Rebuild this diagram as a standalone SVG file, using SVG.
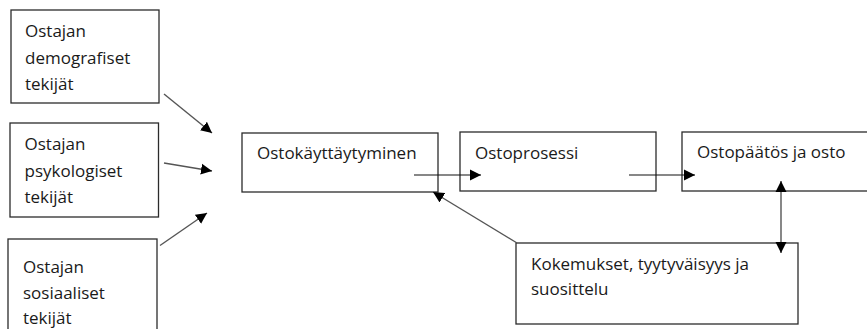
<svg xmlns="http://www.w3.org/2000/svg" width="867" height="329" viewBox="0 0 867 329">
  <style>
    .box { fill: #ffffff; stroke: #2b2b2b; stroke-width: 1.3; }
    .t { font-family: "Open Sans", "Liberation Sans", sans-serif; font-size: 17px; fill: #1a1a1a; }
    .c { stroke: #111; stroke-width: 1.2; fill: none; }
    .cg { stroke: #555; stroke-width: 1.4; fill: none; }
  </style>
  <defs>
    <marker id="ah" markerUnits="userSpaceOnUse" markerWidth="12" markerHeight="12" refX="11" refY="5.5" orient="auto-start-reverse" viewBox="0 0 12 11">
      <path d="M0,0 L11,5.5 L0,11 z" fill="#000"/>
    </marker>
  </defs>
  <rect width="867" height="329" fill="#ffffff"/>

  <g id="n-demografiset">
    <rect class="box" x="11" y="10" width="148" height="93"/>
    <text class="t" x="25" y="37">Ostajan</text>
    <text class="t" x="25" y="63.5">demografiset</text>
    <text class="t" x="25" y="89.5">tekijät</text>
  </g>
  <g id="n-psykologiset">
    <rect class="box" x="10" y="123" width="148.5" height="94"/>
    <text class="t" x="24.5" y="150">Ostajan</text>
    <text class="t" x="24.5" y="176.5">psykologiset</text>
    <text class="t" x="24.5" y="203">tekijät</text>
  </g>
  <g id="n-sosiaaliset">
    <rect class="box" x="8" y="239" width="149" height="100"/>
    <text class="t" x="23" y="272.5">Ostajan</text>
    <text class="t" x="23" y="298.5">sosiaaliset</text>
    <text class="t" x="23" y="323.5">tekijät</text>
  </g>
  <g id="n-ostokayttaytyminen">
    <rect class="box" x="242" y="133" width="196" height="59"/>
    <text class="t" x="257" y="159">Ostokäyttäytyminen</text>
  </g>
  <g id="n-ostoprosessi">
    <rect class="box" x="460" y="132" width="196" height="59"/>
    <text class="t" x="475" y="159">Ostoprosessi</text>
  </g>
  <g id="n-ostopaatos">
    <rect class="box" x="682" y="132" width="192" height="59"/>
    <text class="t" x="697" y="158">Ostopäätös ja osto</text>
  </g>
  <g id="n-kokemukset">
    <rect class="box" x="516" y="243" width="282" height="81"/>
    <text class="t" x="531" y="269.5">Kokemukset, tyytyväisyys ja</text>
    <text class="t" x="531" y="294.5">suosittelu</text>
  </g>

  <g id="connectors">
    <line class="cg" x1="164" y1="94" x2="212" y2="133" marker-end="url(#ah)"/>
    <line class="cg" x1="164" y1="163" x2="212" y2="171" marker-end="url(#ah)"/>
    <line class="cg" x1="160" y1="245.5" x2="207" y2="213" marker-end="url(#ah)"/>
    <line class="c" x1="414" y1="175" x2="481" y2="175" marker-end="url(#ah)"/>
    <line class="c" x1="629" y1="175" x2="695" y2="175" marker-end="url(#ah)"/>
    <line class="cg" x1="781" y1="181" x2="781" y2="253" marker-start="url(#ah)" marker-end="url(#ah)"/>
    <line class="cg" x1="517" y1="243" x2="433" y2="192" marker-end="url(#ah)"/>
  </g>
</svg>
